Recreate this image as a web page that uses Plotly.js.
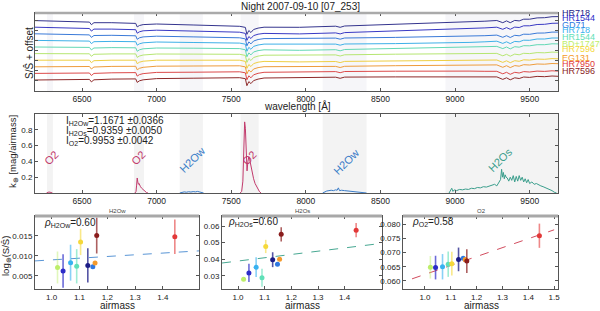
<!DOCTYPE html>
<html><head><meta charset="utf-8">
<script src="https://cdn.plot.ly/plotly-3.0.1.min.js"></script>
<style>html,body{margin:0;padding:0;background:#fff}#chart{width:600px;height:311px}</style>
</head><body><div id="chart"></div><script>
// ---------- top panel: normalised spectra ----------
const wavelength = [6185,6400,6550,6563,6580,6700,6860,6870,6885,6910,7000,7250,7557,7595,7605,7618,7632,7650,7680,7720,7958,8200,8230,8260,8600,8963,9100,9200,9280,9320,9345,9370,9400,9430,9460,9500,9550,9600,9650,9690];
const starNames = ['HR718','HR1544','GD71','HR718','HR1544','BD+174708','HR7596','EG131','HR7950','HR7596'];
const offsets = [0.594,0.528,0.462,0.396,0.330,0.264,0.198,0.132,0.066,0];
const ratioS1 = [1.000,0.991,0.985,0.959,0.979,0.979,0.972,0.937,0.951,0.960,0.966,0.956,0.943,0.932,0.862,0.901,0.881,0.911,0.925,0.934,0.933,0.944,0.933,0.946,0.961,0.977,0.986,0.994,1.001,0.979,0.997,0.979,1.002,0.997,1.014,1.014,1.027,1.029,1.039,1.040];
const ratioS2 = [1.000,0.992,0.987,0.961,0.981,0.981,0.975,0.940,0.954,0.964,0.970,0.961,0.950,0.938,0.868,0.907,0.887,0.916,0.930,0.938,0.933,0.943,0.933,0.946,0.961,0.976,0.986,0.993,1.000,0.979,0.996,0.979,1.001,0.997,1.014,1.014,1.027,1.029,1.039,1.040];
const ratioS3 = [1.000,0.994,0.989,0.964,0.983,0.985,0.980,0.945,0.960,0.969,0.976,0.969,0.960,0.949,0.879,0.919,0.899,0.928,0.943,0.952,0.953,0.957,0.946,0.958,0.964,0.970,0.976,0.981,0.987,0.965,0.981,0.963,0.985,0.980,0.996,0.995,1.007,1.008,1.017,1.017];
const ratioS4 = [1.000,0.996,0.993,0.968,0.987,0.990,0.987,0.952,0.966,0.976,0.984,0.979,0.973,0.962,0.891,0.931,0.911,0.940,0.954,0.963,0.960,0.963,0.952,0.964,0.968,0.973,0.980,0.986,0.992,0.970,0.986,0.968,0.990,0.986,1.002,1.001,1.014,1.014,1.024,1.024];
const ratioS5 = [1.000,0.997,0.996,0.971,0.990,0.994,0.992,0.957,0.972,0.982,0.990,0.988,0.984,0.972,0.902,0.941,0.921,0.950,0.964,0.972,0.967,0.973,0.962,0.975,0.984,0.994,0.999,1.002,1.006,0.984,1.000,0.981,1.003,0.998,1.013,1.012,1.023,1.023,1.032,1.031];
const ratioS6 = [1.000,0.999,0.998,0.973,0.993,0.997,0.997,0.962,0.976,0.986,0.996,0.995,0.993,0.982,0.912,0.951,0.931,0.961,0.975,0.984,0.983,0.987,0.976,0.988,0.994,1.000,1.000,1.000,1.002,0.978,0.993,0.974,0.995,0.988,1.003,1.000,1.010,1.008,1.015,1.013];
const ratioS7 = [1.000,1.000,1.000,0.975,0.995,1.000,1.000,0.965,0.980,0.990,1.000,1.000,1.000,0.988,0.918,0.957,0.937,0.966,0.980,0.988,0.983,0.987,0.976,0.988,0.994,1.000,1.000,1.001,1.002,0.978,0.994,0.975,0.995,0.989,1.004,1.001,1.011,1.009,1.016,1.014];
const ratioS8 = [1.000,1.002,1.003,0.978,0.998,1.004,1.005,0.970,0.985,0.995,1.006,1.008,1.010,0.999,0.929,0.968,0.948,0.978,0.992,1.001,1.000,1.004,0.993,1.005,1.011,1.017,1.017,1.018,1.019,0.995,1.011,0.992,1.012,1.006,1.021,1.018,1.028,1.026,1.033,1.031];
const ratioS9 = [1.000,1.003,1.004,0.979,1.000,1.006,1.008,0.973,0.988,0.998,1.010,1.012,1.016,1.006,0.936,0.976,0.956,0.986,1.001,1.011,1.016,1.018,1.007,1.019,1.022,1.026,1.023,1.021,1.021,0.996,1.011,0.991,1.011,1.004,1.018,1.014,1.023,1.020,1.026,1.023];
const ratioS10 = [1.000,1.004,1.006,0.981,1.002,1.009,1.011,0.976,0.992,1.002,1.014,1.018,1.023,1.013,0.943,0.984,0.964,0.994,1.009,1.020,1.027,1.028,1.017,1.029,1.031,1.033,1.031,1.030,1.031,1.006,1.022,1.002,1.022,1.015,1.030,1.026,1.036,1.033,1.040,1.037];

// telluric band windows (Angstrom)
const bandStart = [6265,6848,7155,7563,8113,8936];
const bandEnd   = [6305,6915,7310,7684,8407,9690];

// ---------- middle panel: extinction curves ----------
const o2Wave = [6262,6270,6278,6286,6294,6302,null,6855,6862,6866,6870,6874,6878,6882,6886,6892,6900,6910,6920,6932,6942,null,7560,7570,7578,7584,7590,7595,7600,7606,7612,7618,7624,7630,7640,7650,7660,7670,7680,7690,7700];
const o2K    = [0,0.008,0.012,0.010,0.004,0,null,0,0.02,0.10,0.19,0.14,0.11,0.12,0.10,0.08,0.06,0.04,0.02,0.006,0,null,0,0.02,0.15,0.45,0.90,0.82,0.50,0.28,0.40,0.46,0.42,0.36,0.26,0.18,0.12,0.08,0.04,0.015,0];
const h2owWave = [7155,7170,7185,7200,7215,7230,7245,7260,7275,7290,7305,7315,null,8113,8125,8140,8155,8170,8185,8200,8210,8218,8226,8240,8260,8280,8300,8320,8345,8370,8395,8407];
const h2owK    = [0,0.008,0.014,0.010,0.016,0.012,0.018,0.014,0.020,0.012,0.008,0,null,0,0.015,0.025,0.030,0.035,0.030,0.040,0.035,0.065,0.030,0.035,0.030,0.025,0.022,0.018,0.012,0.008,0.004,0];
const h2osWave = [8960,8970,8978,8986,8995,9010,9030,9050,9070,9090,9110,9130,9150,9170,9190,9210,9230,9250,9265,9280,9295,9305,9312,9318,9324,9330,9336,9342,9350,9360,9370,9380,9390,9400,9410,9420,9430,9440,9450,9460,9470,9480,9490,9500,9515,9530,9545,9560,9575,9590,9605,9620,9635,9650,9665,9680];
const h2osK    = [0,0.04,0.06,0.02,0.04,0.03,0.045,0.04,0.05,0.045,0.06,0.055,0.07,0.065,0.08,0.075,0.09,0.10,0.11,0.09,0.14,0.17,0.30,0.20,0.26,0.18,0.23,0.20,0.19,0.15,0.20,0.16,0.22,0.14,0.21,0.15,0.22,0.16,0.20,0.14,0.18,0.13,0.17,0.12,0.14,0.11,0.12,0.10,0.09,0.08,0.07,0.06,0.04,0.03,0.01,0];

// ---------- bottom panels: band depth vs airmass ----------
const airmass = [1.130,1.041,1.148,1.068,1.090,1.021,1.104,1.156,1.443,1.162];
const logH2Ow = [0.0076,0.0062,0.0073,0.0083,0.0074,0.0071,0.0135,0.0082,0.0148,0.0151];
const errH2Ow = [0.0043,0.0042,0.0004,0.0045,0.0043,0.0040,0.0033,0.0004,0.0043,0.0045];
const logH2Os = [0.0397,0.0317,0.0370,0.0352,0.0288,0.0279,0.0477,0.0400,0.0575,0.0550];
const errH2Os = [0.0045,0.0055,0.0005,0.0060,0.0055,0.0010,0.0040,0.0007,0.0043,0.0043];
const logO2   = [0.0676,0.0647,0.0680,0.0650,0.0659,0.0648,0.0661,0.0676,0.0760,0.0670];
const errO2   = [0.0042,0.0042,0.0005,0.0045,0.0045,0.0040,0.0042,0.0006,0.0043,0.0042];
const fitH2OwX = [0.94,1.53], fitH2OwY = [0.00874,0.01126];
const fitH2OsX = [0.94,1.54], fitH2OsY = [0.0377,0.0496];
const fitO2X   = [0.95,1.50], fitO2Y   = [0.0607,0.0781];

// ---------- styling ----------
const starColors = ['#1c1c86','#2c2cc8','#2f78e0','#38b2f0','#5fe0b8','#bdee6a','#f5d83a','#f59a2a','#e23838','#8a1c1c'];
const lineColors = ['#35358e','#3a3ac4','#3a7ad8','#3eb0e8','#62d8b4','#b6e672','#eecf44','#ee9c3c','#dc4a4a','#8e2a2a'];
const errColors  = ['rgba(28,28,134,0.75)','rgba(44,44,200,0.7)','rgba(47,120,224,0.6)','rgba(56,178,240,0.6)','rgba(95,224,184,0.6)','rgba(189,238,106,0.45)','rgba(245,216,58,0.6)','rgba(245,154,42,0.6)','rgba(226,56,56,0.6)','rgba(138,28,28,0.7)'];
const FONT = 'Liberation Sans, Arial, sans-serif';
const ratios = [ratioS1,ratioS2,ratioS3,ratioS4,ratioS5,ratioS6,ratioS7,ratioS8,ratioS9,ratioS10];

const traces = [];
for (let i = 0; i < starNames.length; i++) {
  traces.push({x: wavelength, y: ratios[i].map(v => v + offsets[i]), xaxis:'x', yaxis:'y', mode:'lines',
    line:{color: lineColors[i], width:1}, hoverinfo:'skip'});
}
traces.push({x:o2Wave, y:o2K, xaxis:'x2', yaxis:'y2', mode:'lines', line:{color:'#c23a6c', width:1}, connectgaps:false});
traces.push({x:h2owWave, y:h2owK, xaxis:'x2', yaxis:'y2', mode:'lines', line:{color:'#3a7cc8', width:1}, connectgaps:false});
traces.push({x:h2osWave, y:h2osK, xaxis:'x2', yaxis:'y2', mode:'lines', line:{color:'#3a9e8c', width:1}});

traces.push({x:fitH2OwX, y:fitH2OwY, xaxis:'x3', yaxis:'y3', mode:'lines', line:{color:'#5a96d6', width:1, dash:'dash'}});
traces.push({x:fitH2OsX, y:fitH2OsY, xaxis:'x4', yaxis:'y4', mode:'lines', line:{color:'#47a892', width:1, dash:'dash'}});
traces.push({x:fitO2X, y:fitO2Y, xaxis:'x5', yaxis:'y5', mode:'lines', line:{color:'#d24c5e', width:1, dash:'dash'}});

const panels = [[logH2Ow, errH2Ow, 'x3', 'y3'], [logH2Os, errH2Os, 'x4', 'y4'], [logO2, errO2, 'x5', 'y5']];
panels.forEach(p => {
  for (let i = 0; i < starNames.length; i++) {
    traces.push({x:[airmass[i]], y:[p[0][i]], xaxis:p[2], yaxis:p[3], mode:'markers',
      marker:{color: starColors[i], size:5},
      error_y:{type:'data', array:[p[1][i]], color: errColors[i], thickness:1.6, width:0}});
  }
});

const axBase = {showgrid:false, zeroline:false, showline:true, linecolor:'#555', linewidth:1, mirror:'ticks',
  ticks:'inside', ticklen:3, tickcolor:'#555', tickfont:{family:FONT, size:8.5, color:'#222'}};
const small = {tickfont:{family:FONT, size:8, color:'#222'}};
const px2y = p => 1 - p/311;
const px2x = p => p/600;
const BOT = 289;

const layout = {
  width:600, height:311, margin:{l:0,r:0,t:0,b:0}, showlegend:false,
  paper_bgcolor:'#fff', plot_bgcolor:'#fff', font:{family:FONT, color:'#222'},
  xaxis: Object.assign({}, axBase, {domain:[px2x(35), px2x(558)], range:[6185,9690], anchor:'y', tickvals:[6500,7000,7500,8000,8500,9000,9500]}),
  yaxis: Object.assign({}, axBase, {domain:[px2y(91), px2y(13)], range:[0.89,1.67], anchor:'x', showticklabels:false, dtick:0.1, tick0:0.9}),
  xaxis2: Object.assign({}, axBase, {domain:[px2x(35), px2x(558)], range:[6185,9690], anchor:'y2', tickvals:[6500,7000,7500,8000,8500,9000,9500]}),
  yaxis2: Object.assign({}, axBase, small, {domain:[px2y(193), px2y(114)], range:[0,1.0], anchor:'x2', tickvals:[0.2,0.4,0.6,0.8]}),
  xaxis3: Object.assign({}, axBase, small, {domain:[px2x(35), px2x(199)], range:[0.94,1.53], anchor:'y3', tickvals:[1.0,1.1,1.2,1.3,1.4], ticktext:['1.0','1.1','1.2','1.3','1.4']}),
  yaxis3: Object.assign({}, axBase, small, {domain:[px2y(BOT), px2y(216)], range:[0.0017,0.020], anchor:'x3', tickvals:[0.005,0.010,0.015], ticktext:['0.005','0.010','0.015']}),
  xaxis4: Object.assign({}, axBase, small, {domain:[px2x(222), px2x(382)], range:[0.94,1.54], anchor:'y4', tickvals:[1.0,1.1,1.2,1.3,1.4], ticktext:['1.0','1.1','1.2','1.3','1.4']}),
  yaxis4: Object.assign({}, axBase, small, {domain:[px2y(BOT), px2y(216)], range:[0.022,0.0661], anchor:'x4', tickvals:[0.03,0.04,0.05,0.06], ticktext:['0.03','0.04','0.05','0.06']}),
  xaxis5: Object.assign({}, axBase, small, {domain:[px2x(403), px2x(558)], range:[0.915,1.515], anchor:'y5', tickvals:[1.0,1.1,1.2,1.3,1.4,1.5], ticktext:['1.0','1.1','1.2','1.3','1.4','1.5']}),
  yaxis5: Object.assign({}, axBase, small, {domain:[px2y(BOT), px2y(216)], range:[0.0571,0.083], anchor:'x5', tickvals:[0.06,0.065,0.07,0.075,0.08], ticktext:['0.060','0.065','0.070','0.075','0.080']}),
  shapes: [], annotations: []
};

for (let b = 0; b < bandStart.length; b++) {
  layout.shapes.push({type:'rect', xref:'x', yref:'y domain', x0:bandStart[b], x1:bandEnd[b], y0:0, y1:1, fillcolor:'#f6f6f9', line:{width:0}, layer:'below'});
  layout.shapes.push({type:'rect', xref:'x2', yref:'y2 domain', x0:bandStart[b], x1:bandEnd[b], y0:0, y1:1, fillcolor:'#f3f3f3', line:{width:0}, layer:'below'});
}
layout.shapes.push({type:'line', xref:'x domain', yref:'y domain', x0:0, x1:1, y0:1, y1:1, line:{color:'#aaa', width:2.5}});
['3','4','5'].forEach(n => {
  layout.shapes.push({type:'line', xref:'x'+n+' domain', yref:'y'+n+' domain', x0:0, x1:1, y0:1, y1:1, line:{color:'#a8a8a8', width:3}});
});

const A = layout.annotations;
const ann = (text, x, y, o) => A.push(Object.assign({text, x:px2x(x), y:px2y(y), xref:'paper', yref:'paper', xanchor:'center', yanchor:'middle', showarrow:false, font:{family:FONT, size:10, color:'#222'}}, o||{}));

ann('Night 2007-09-10 [07_253]', 300, 6);
ann('wavelength [Å]', 297, 105.5);
ann('S/Ŝ + offset', 29, 53, {textangle:-90});
ann('k<sub>⊕</sub> [mag/airmass]', 13, 152, {textangle:-90, font:{family:FONT,size:9.5,color:'#222'}});
ann('log<sub>⊕</sub>(S/Ŝ)', 6, 256, {textangle:-90, font:{family:FONT,size:9.5,color:'#222'}});
[117,302,481].forEach(x => ann('airmass', x, 305, {font:{family:FONT,size:10,color:'#222'}}));

ann('I<sub>H2Ow</sub>=1.1671 ±0.0366', 64, 120.5, {xanchor:'left'});
ann('I<sub>H2Os</sub>=0.9359 ±0.0050', 64, 130.5, {xanchor:'left'});
ann('I<sub>O2</sub>=0.9953 ±0.0042', 64, 140.5, {xanchor:'left'});

const bandLabels = [['O2',51,158,'#c23a6c'],['O2',138,158,'#c23a6c'],['H2Ow',192,160,'#3a7cc8'],['O2',249,158,'#c23a6c'],['H2Ow',346,162,'#3a7cc8'],['H2Os',500,160,'#3a9e8c']];
bandLabels.forEach(b => ann(b[0], b[1], b[2], {textangle:-45, font:{family:FONT,size:11,color:b[3]}}));

ann('<i>ρ</i><sub>H2Ow</sub>=0.60', 42, 223, {xanchor:'left'});
ann('<i>ρ</i><sub>H2Os</sub>=0.60', 226, 222, {xanchor:'left'});
ann('<i>ρ</i><sub>O2</sub>=0.58', 410, 222, {xanchor:'left'});
ann('H2Ow', 117, 211, {font:{family:FONT,size:6,color:'#444'}});
ann('H2Os', 302, 211, {font:{family:FONT,size:6,color:'#444'}});
ann('O2', 481, 211, {font:{family:FONT,size:6,color:'#444'}});

const labelY = [12.5, 18, 25, 30, 36.5, 44, 49, 57.5, 63.5, 70.5];
starNames.forEach((n,i) => ann(n, 560, labelY[i], {xanchor:'left', font:{family:FONT,size:9,color:starColors[i]}}));

Plotly.newPlot('chart', traces, layout, {staticPlot:true, displayModeBar:false});
</script></body></html>
